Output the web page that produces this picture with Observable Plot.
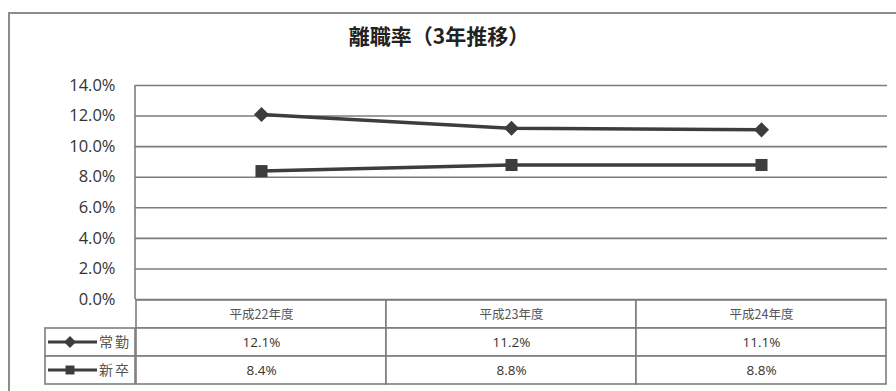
<!DOCTYPE html>
<html>
<head>
<meta charset="utf-8">
<script src="https://cdn.jsdelivr.net/npm/d3@7"></script>
<script src="https://cdn.jsdelivr.net/npm/@observablehq/plot@0.6"></script>
<style>
  html, body { margin: 0; padding: 0; background: #fff; }
  #page { position: relative; width: 896px; height: 391px; overflow: hidden; background: #fff; }
  #box { position: absolute; left: 8px; top: 12px; width: 900px; height: 400px;
         border-left: 2px solid #8c8c8c; border-top: 2px solid #8c8c8c; }
  #title { position: absolute; left: 0; width: 878px; top: 20px; text-align: center;
           font: bold 21px "Noto Sans CJK JP", sans-serif; color: #222; }
  #chart, #table { position: absolute; left: 0; }
  #chart { top: 0; }
  #table { top: 290px; }
  svg { overflow: visible; }
</style>
</head>
<body>
<div id="page">
  <div id="box"></div>
  <div id="title">離職率（3年推移）</div>
  <div id="chart"></div>
  <div id="table"></div>
</div>
<script>
// Turnover rate (%) by fiscal year, for full-time staff and new graduates
const years = ["平成22年度", "平成23年度", "平成24年度"];
const seriesNames = ["常勤", "新卒"];
const joukin = [12.1, 11.2, 11.1];
const shinsotsu = [8.4, 8.8, 8.8];
const yTicks = [0, 2, 4, 6, 8, 10, 12, 14];

const points = years.flatMap((yr, i) => [
  {year: yr, series: seriesNames[0], value: joukin[i]},
  {year: yr, series: seriesNames[1], value: shinsotsu[i]}
]);

const W = 896, ML = 135, MR = 9;
const INK = "#3d3d3d", RULE = "#7d7d7d";
const pct = d => d.toFixed(1) + "%";

// vertical line along the left edge of the plot area
function leftEdge(index, scales, values, dims) {
  const g = d3.create("svg:g");
  g.append("line")
    .attr("x1", dims.marginLeft).attr("x2", dims.marginLeft)
    .attr("y1", dims.marginTop).attr("y2", dims.height - dims.marginBottom)
    .attr("stroke", RULE).attr("stroke-width", 1.6);
  return g.node();
}

const chart = Plot.plot({
  width: W, height: 300,
  marginTop: 85, marginBottom: 1, marginLeft: ML, marginRight: MR,
  x: {type: "band", domain: years, padding: 0, axis: null},
  y: {domain: [0, 14], axis: null},
  style: {background: "transparent"},
  marks: [
    Plot.gridY(yTicks, {stroke: RULE, strokeOpacity: 1, strokeWidth: 1.6}),
    Plot.axisY(yTicks, {tickSize: 0, tickPadding: 20, tickFormat: pct, label: null,
      fontSize: 16.5, fontFamily: "'Open Sans', sans-serif", fill: "#333"}),
    leftEdge,
    Plot.line(points, {x: "year", y: "value", z: "series", stroke: INK, strokeWidth: 3.5}),
    Plot.dot(points, {filter: d => d.series === seriesNames[0], x: "year", y: "value",
      symbol: "diamond2", r: 6.8, fill: INK}),
    Plot.dot(points, {filter: d => d.series === seriesNames[1], x: "year", y: "value",
      symbol: "square", r: 6.8, fill: INK})
  ]
});
document.getElementById("chart").append(chart);

// data table under the chart
const rows = ["header", ...seriesNames];
const cells = [
  ...years.map(yr => ({year: yr, row: "header", label: yr})),
  ...years.map((yr, i) => ({year: yr, row: seriesNames[0], label: pct(joukin[i])})),
  ...years.map((yr, i) => ({year: yr, row: seriesNames[1], label: pct(shinsotsu[i])}))
];

// legend keys in the left column of the table
function legendKeys(index, scales, values, dims) {
  const g = d3.create("svg:g");
  const y = scales.y;
  const colW = 90;
  const x0 = dims.marginLeft - colW;
  const bw = y(rows[2]) - y(rows[1]);
  seriesNames.forEach((name, i) => {
    const top = y(name), cy = top + bw / 2;
    g.append("rect").attr("x", x0).attr("y", top).attr("width", colW).attr("height", bw)
      .attr("fill", "white").attr("stroke", RULE).attr("stroke-width", 1.6);
    g.append("line").attr("x1", x0 + 3).attr("x2", x0 + 52).attr("y1", cy).attr("y2", cy)
      .attr("stroke", INK).attr("stroke-width", 3);
    g.append("path").attr("transform", `translate(${x0 + 25},${cy})`)
      .attr("d", d3.symbol(i ? d3.symbolSquare : d3.symbolDiamond2, i ? 80 : 90)())
      .attr("fill", INK);
    g.append("text").attr("x", x0 + 54).attr("y", cy).attr("dy", "0.35em")
      .attr("text-anchor", "start")
      .attr("font-size", 14).attr("font-family", "'Noto Sans CJK JP', sans-serif")
      .attr("letter-spacing", 2).attr("fill", "#555").text(name);
  });
  return g.node();
}

const table = Plot.plot({
  width: W, height: 101,
  marginTop: 9, marginBottom: 6, marginLeft: ML, marginRight: MR,
  x: {type: "band", domain: years, padding: 0, axis: null},
  y: {type: "band", domain: rows, padding: 0, axis: null},
  style: {background: "transparent"},
  marks: [
    Plot.cell(cells, {x: "year", y: "row", inset: 0, fill: "white", stroke: RULE, strokeWidth: 1.6}),
    Plot.text(cells, {filter: d => d.row === "header", x: "year", y: "row", text: "label",
      fontSize: 12.5, fontFamily: "'Noto Sans CJK JP', sans-serif", fill: "#555"}),
    Plot.text(cells, {filter: d => d.row !== "header", x: "year", y: "row", text: "label",
      fontSize: 13.5, fontFamily: "'Open Sans', sans-serif", fill: "#333"}),
    legendKeys
  ]
});
document.getElementById("table").append(table);
</script>
</body>
</html>
